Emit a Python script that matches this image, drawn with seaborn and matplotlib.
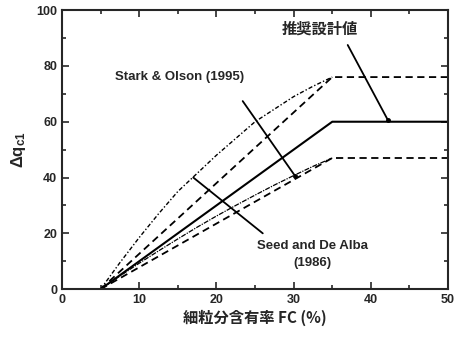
import numpy as np
import pandas as pd
import matplotlib
matplotlib.use("Agg")
import matplotlib.pyplot as plt
import seaborn as sns
from matplotlib.ticker import MultipleLocator

# ---- data ----
x_curve = [5, 7.5, 10, 12.5, 15, 17.5, 20, 22.5, 25, 27.5, 30, 32.5, 35]
stark_upper = [0, 9.5, 18.5, 27, 35, 41.5, 48, 54, 60, 64.5, 69, 72.7, 76]          # dash-dot curve
seed_lower_curve = [0, 4.7, 9.3, 13.7, 18, 22.2, 26.2, 30, 33.7, 37.3, 40.7, 44, 47]  # thin dash-dot curve

x_poly = [5, 35, 50]
stark_dashed = [0, 76, 76]
recommended = [0, 60, 60]
seed_dashed = [0, 47, 47]

x_ticks = [0, 10, 20, 30, 40, 50]
y_ticks = [0, 20, 40, 60, 80, 100]

sns.set_style("ticks")
plt.rcParams['font.family'] = ['Liberation Sans', 'Noto Sans CJK JP', 'DejaVu Sans']
plt.rcParams['font.weight'] = 'bold'
plt.rcParams['mathtext.fontset'] = 'custom'
plt.rcParams['mathtext.rm'] = 'Liberation Sans:bold'
plt.rcParams['mathtext.bf'] = 'Liberation Sans:bold'
plt.rcParams['mathtext.it'] = 'Liberation Sans:bold'

fig = plt.figure(figsize=(4.61, 3.37), dpi=100)
ax = fig.add_axes([0.1345, 0.142, 0.8375, 0.828])

df_c = pd.DataFrame({'x': x_curve, 'up': stark_upper, 'lo': seed_lower_curve})
df_p = pd.DataFrame({'x': x_poly, 'sd': stark_dashed, 'rec': recommended, 'ld': seed_dashed})

sns.lineplot(data=df_c, x='x', y='up', ax=ax, color='black', lw=1.0,
             linestyle=(0, (3, 1.5, 1, 1.5)))
sns.lineplot(data=df_c, x='x', y='lo', ax=ax, color='black', lw=0.9,
             linestyle=(0, (4, 1, 1, 1)))
sns.lineplot(data=df_p, x='x', y='sd', ax=ax, color='black', lw=1.3,
             linestyle=(0, (4, 2.5)))
sns.lineplot(data=df_p, x='x', y='ld', ax=ax, color='black', lw=1.3,
             linestyle=(0, (4, 2.5)))
sns.lineplot(data=df_p, x='x', y='rec', ax=ax, color='black', lw=1.5)

# leader lines
ax.plot([23.4, 30.2], [67.4, 40.5], color='black', lw=1.3)
ax.plot([30.2], [40.5], 'o', color='black', ms=2.5)
ax.plot([37.0, 42.2], [87.5, 60.6], color='black', lw=1.3)
ax.plot([42.2], [60.6], 'o', color='black', ms=2.5)
ax.plot([17.0, 26.0], [40.0, 20.0], color='black', lw=1.3)

ax.text(15.2, 76, 'Stark & Olson (1995)', ha='center', va='center', fontsize=9.5, fontweight='bold')
ax.text(33.4, 93.2, '推奨設計値', ha='center', va='center', fontsize=11, fontweight='bold',
        family=['Noto Sans CJK JP'])
ax.text(32.4, 15.4, 'Seed and De Alba', ha='center', va='center', fontsize=9.5, fontweight='bold')
ax.text(32.4, 9.5, '(1986)', ha='center', va='center', fontsize=9.5, fontweight='bold')

ax.set_xlim(0, 50)
ax.set_ylim(0, 100)
ax.set_xticks(x_ticks)
ax.set_yticks(y_ticks)
ax.xaxis.set_minor_locator(MultipleLocator(5))
ax.yaxis.set_minor_locator(MultipleLocator(10))
ax.tick_params(which='both', direction='in', top=True, right=True, labelsize=9, width=1.2)
ax.tick_params(which='major', length=5)
ax.tick_params(which='minor', length=3)
for lab in ax.get_xticklabels() + ax.get_yticklabels():
    lab.set_fontweight('bold')
for sp in ax.spines.values():
    sp.set_linewidth(1.5)
    sp.set_visible(True)

ax.set_xlabel('細粒分含有率 FC (%)', fontsize=11, fontweight='bold',
              family=['Noto Sans CJK JP', 'Liberation Sans'], labelpad=3)
ax.set_ylabel(r'$\Delta\mathrm{q}_{\mathrm{c1}}$', fontsize=12, labelpad=6)

fig.savefig('out.png', dpi=100)
